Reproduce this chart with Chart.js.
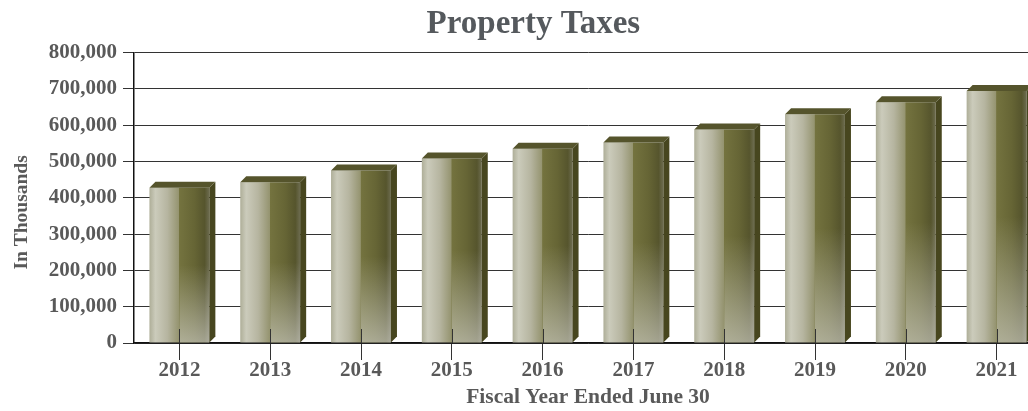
<!DOCTYPE html>
<html>
<head>
<meta charset="utf-8">
<title>Property Taxes</title>
<script src="https://cdn.jsdelivr.net/npm/chart.js@4.4.1/dist/chart.umd.min.js"></script>
<style>
  html, body { margin: 0; padding: 0; background: #fff; overflow: hidden; }
  #wrap { width: 1050px; height: 411px; }
</style>
</head>
<body>
<div id="wrap"><canvas id="bar-chartcanvas"></canvas></div>
<script>
// values (in thousands)
var years = ["2012", "2013", "2014", "2015", "2016", "2017", "2018", "2019", "2020", "2021"];
var propertyTaxes = [428000, 443000, 475000, 508000, 535000, 552000, 588000, 630000, 663000, 694000];
var yTickValues = [0, 100000, 200000, 300000, 400000, 500000, 600000, 700000, 800000];

var serif = "'Liberation Serif', 'Times New Roman', serif";
var grey = "#595959";
var barPct = 0.66;

// front face: light on the left, olive seam in the middle, dark to the right
function faceGradient(context) {
    var chart = context.chart;
    var area = chart.chartArea;
    var xs = chart.scales.x;
    if (!area || !xs || context.dataIndex === undefined) {
        return "#7a7950";
    }
    var w = area.width / years.length * barPct;
    var left = xs.getPixelForValue(context.dataIndex) - w / 2;
    var g = chart.ctx.createLinearGradient(left, 0, left + w, 0);
    g.addColorStop(0, "#aeae98");
    g.addColorStop(0.1, "#cbcbbb");
    g.addColorStop(0.3, "#b6b5a0");
    g.addColorStop(0.49, "#959470");
    g.addColorStop(0.5, "#74733f");
    g.addColorStop(0.75, "#666535");
    g.addColorStop(0.92, "#56552d");
    g.addColorStop(1, "#6d6c50");
    return g;
}

// extra pieces for the 3D look, drawn on top of the library's bars
var bar3d = {
    id: "bar3d",
    afterDatasetsDraw: function (chart) {
        var ctx = chart.ctx;
        var meta = chart.getDatasetMeta(0);
        var d = 6;
        meta.data.forEach(function (bar) {
            var left = bar.x - bar.width / 2;
            var right = bar.x + bar.width / 2;
            var top = bar.y;
            var base = bar.base;
            var h = base - top;
            ctx.save();

            // lighter bottom of the right half (bevel)
            var lg = ctx.createLinearGradient(0, base - h * 0.5, 0, base);
            lg.addColorStop(0, "rgba(215,215,210,0)");
            lg.addColorStop(1, "rgba(215,215,210,0.6)");
            ctx.fillStyle = lg;
            ctx.fillRect(bar.x, base - h * 0.5, right - bar.x, h * 0.5);

            // right side
            ctx.fillStyle = "#47461f";
            ctx.beginPath();
            ctx.moveTo(right, top);
            ctx.lineTo(right + d, top - d);
            ctx.lineTo(right + d, base - d);
            ctx.lineTo(right, base);
            ctx.closePath();
            ctx.fill();

            // top cap
            ctx.fillStyle = "#55542c";
            ctx.beginPath();
            ctx.moveTo(left, top);
            ctx.lineTo(left + d, top - d);
            ctx.lineTo(right + d, top - d);
            ctx.lineTo(right, top);
            ctx.closePath();
            ctx.fill();
            ctx.restore();
        });

        // category tick marks reach up into the bars
        var xs = chart.scales.x;
        var y0 = chart.scales.y.getPixelForValue(0);
        ctx.save();
        ctx.strokeStyle = "#333";
        ctx.lineWidth = 1;
        ctx.beginPath();
        years.forEach(function (yr, i) {
            var px = Math.round(xs.getPixelForValue(i)) + 0.5;
            ctx.moveTo(px, y0 - 14);
            ctx.lineTo(px, y0);
        });
        ctx.stroke();
        ctx.restore();
    }
};

var ctx = document.getElementById("bar-chartcanvas");

var data = {
    labels: years,
    datasets: [
        {
            label: "Property Taxes",
            data: propertyTaxes,
            backgroundColor: faceGradient,
            borderWidth: 0,
            categoryPercentage: 1,
            barPercentage: barPct
        }
    ]
};

var options = {
    responsive: true,
    maintainAspectRatio: false,
    animation: false,
    layout: {
        padding: { left: 0, right: 8, top: 0, bottom: 0 }
    },
    plugins: {
        legend: { display: false },
        tooltip: { enabled: false },
        title: {
            display: true,
            // leading no-break spaces nudge the centred title to the right like the original
            text: "\u00a0\u00a0\u00a0Property Taxes",
            color: "#55595d",
            font: { family: serif, size: 33, weight: "bold", lineHeight: 1.2 },
            padding: { top: 5, bottom: 8 }
        }
    },
    scales: {
        x: {
            afterFit: function (scale) { scale.height = 68; },
            grid: {
                offset: false,
                drawOnChartArea: false,
                drawTicks: true,
                tickLength: 17,
                color: "#333"
            },
            border: { display: true, color: "#111", width: 1.5 },
            ticks: {
                color: grey,
                padding: -2,
                maxRotation: 0,
                font: { family: serif, size: 21, weight: "bold" }
            },
            title: {
                display: true,
                text: "Fiscal Year Ended June 30",
                color: grey,
                font: { family: serif, size: 21.5, weight: "bold", lineHeight: 1.2 },
                padding: { top: 0, bottom: 1 }
            }
        },
        y: {
            min: 0,
            max: 800000,
            afterFit: function (scale) { scale.width = 134; },
            afterBuildTicks: function (scale) {
                scale.ticks = yTickValues.map(function (v) { return { value: v }; });
            },
            grid: {
                color: "#333",
                lineWidth: 1,
                drawTicks: true,
                tickLength: 11
            },
            border: { display: true, color: "#111", width: 1.5 },
            ticks: {
                color: grey,
                padding: 6,
                font: { family: serif, size: 21, weight: "bold" },
                callback: function (v) { return Number(v).toLocaleString("en-US"); }
            },
            title: {
                display: true,
                // trailing no-break spaces move the centred label a little lower, as in the original
                text: "In Thousands\u00a0\u00a0\u00a0\u00a0\u00a0\u00a0",
                color: grey,
                font: { family: serif, size: 19.5, weight: "bold", lineHeight: 1.2 },
                padding: { top: 10, bottom: 0 }
            }
        }
    }
};

var chart = new Chart(ctx, {
    type: "bar",
    data: data,
    options: options,
    plugins: [bar3d]
});
</script>
</body>
</html>
